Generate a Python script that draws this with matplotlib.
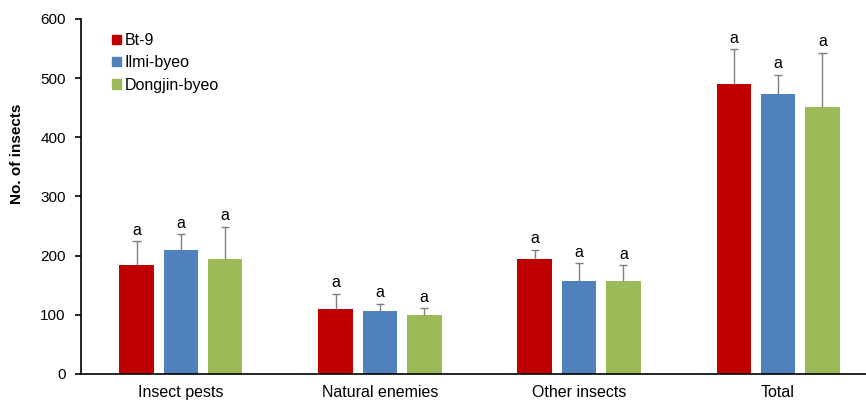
import matplotlib
matplotlib.use("Agg")
import matplotlib.pyplot as plt
from matplotlib.patches import Rectangle
import numpy as np

plt.rcParams['font.family'] = ['Liberation Sans', 'DejaVu Sans']

categories = ["Insect pests", "Natural enemies", "Other insects", "Total"]
varieties = ["Bt-9", "Ilmi-byeo", "Dongjin-byeo"]
means = {
    "Bt-9":         [184, 109, 195, 490],
    "Ilmi-byeo":    [210, 106, 157, 474],
    "Dongjin-byeo": [194, 99, 157, 451],
}
errors = {
    "Bt-9":         [40, 27, 15, 59],
    "Ilmi-byeo":    [26, 13, 30, 32],
    "Dongjin-byeo": [55, 12, 27, 92],
}
letters = {
    "Bt-9":         ["a", "a", "a", "a"],
    "Ilmi-byeo":    ["a", "a", "a", "a"],
    "Dongjin-byeo": ["a", "a", "a", "a"],
}
colors = ["#C00000", "#4F81BD", "#9BBB59"]

fig = plt.figure(figsize=(8.66, 4.03), dpi=100)
ax = fig.add_axes([0.0935, 0.072, 0.9065, 0.881])

x = np.arange(len(categories))
width = 0.173
offset = 0.2226
cap = 0.021

for i, (var, col) in enumerate(zip(varieties, colors)):
    pos = x + (i - 1) * offset
    vals = np.array(means[var])
    errs = np.array(errors[var])
    ax.bar(pos, vals, width=width, color=col, label=var, zorder=2)
    # upper-only error bars with a cap at the top
    ax.vlines(pos, vals, vals + errs, color="#7F7F7F", linewidth=1.0, zorder=3)
    ax.hlines(vals + errs, pos - cap, pos + cap, color="#7F7F7F", linewidth=1.0, zorder=3)
    for p, v, e, t in zip(pos, vals, errs, letters[var]):
        ax.annotate(t, (p, v + e), xytext=(0, 2.5), textcoords='offset points',
                    ha='center', va='bottom', fontsize=11.5)

ax.set_xlim(-0.5025, 3.442)
ax.set_ylim(0, 600)
ax.set_yticks(range(0, 601, 100))
ax.set_xticks(x)
ax.set_xticklabels(categories, fontsize=11.5)
ax.tick_params(axis='x', length=0, pad=8)
ax.tick_params(axis='y', direction='out', length=4, width=1.2, labelsize=11, pad=7)
ax.spines['top'].set_visible(False)
ax.spines['right'].set_visible(False)
ax.spines['left'].set_linewidth(1.2)
ax.spines['bottom'].set_linewidth(1.2)
ax.set_ylabel("No. of insects", fontsize=11, fontweight='bold')
ax.yaxis.set_label_coords(-0.072, 0.62)

handles = [Rectangle((0, 0), 1, 1, color=c) for c in colors]
leg = ax.legend(handles, varieties, loc='upper left', bbox_to_anchor=(0.032, 0.978),
                frameon=False, fontsize=11.5, handlelength=0.55, handleheight=0.55,
                handletextpad=0.2, labelspacing=0.45, borderaxespad=0)

fig.savefig("out.png", dpi=100)
